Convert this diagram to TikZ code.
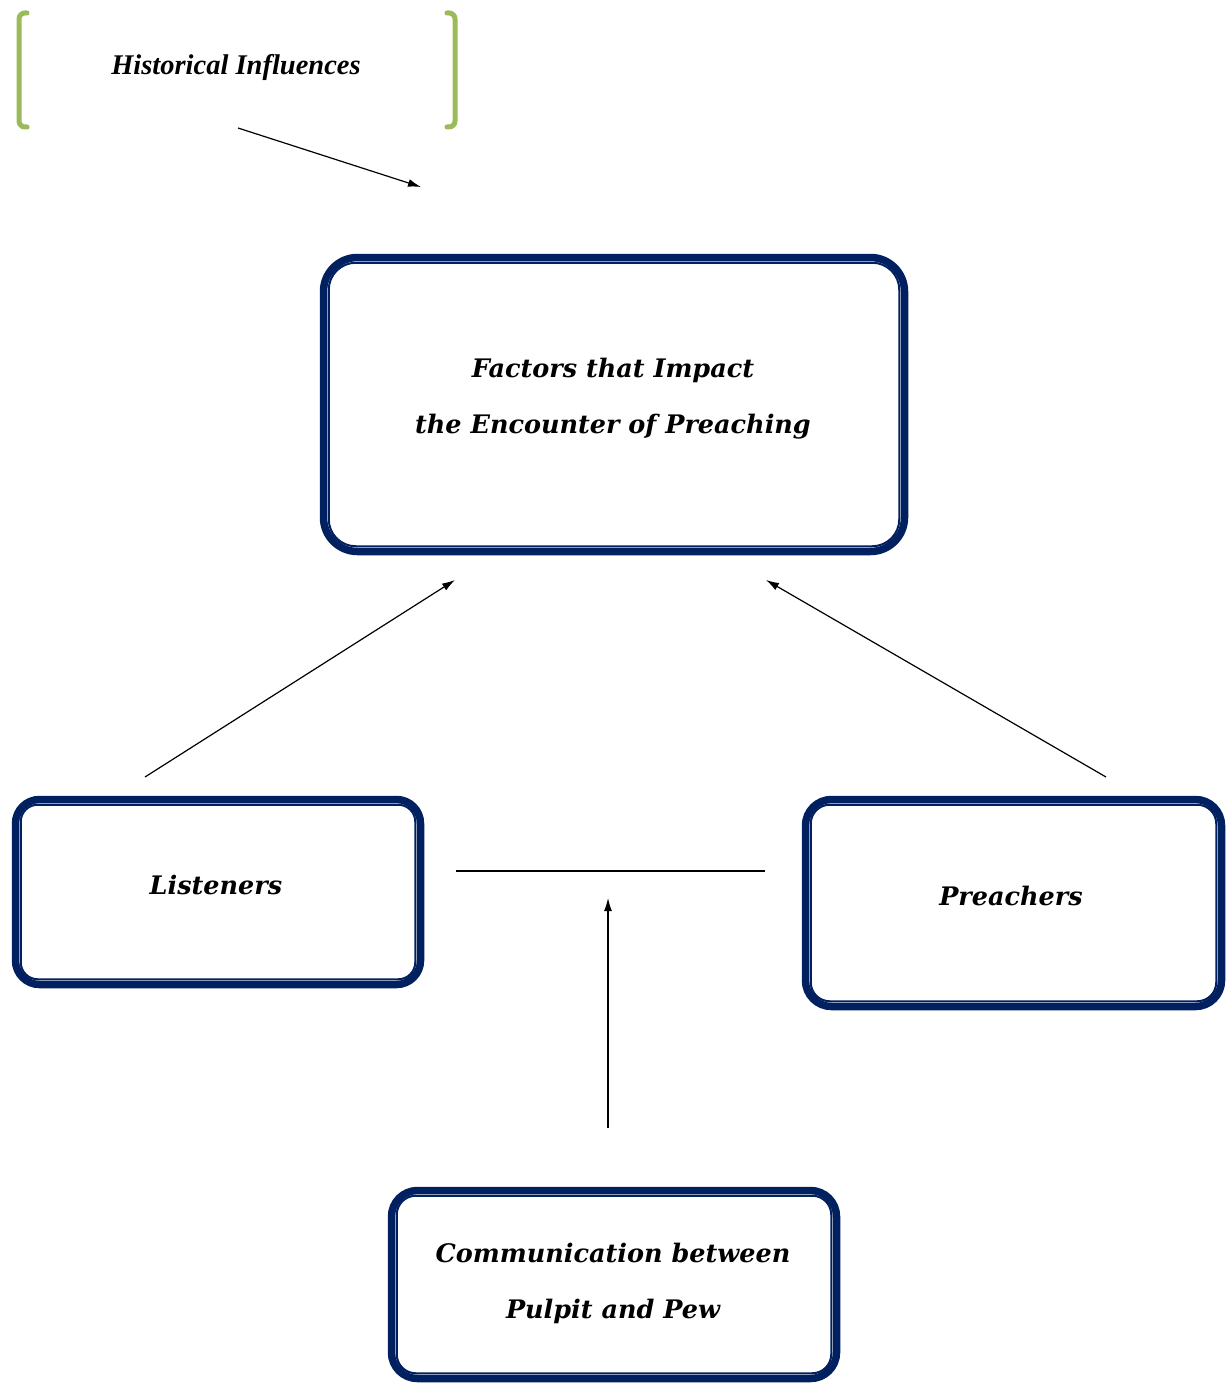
\documentclass[tikz,border=0pt]{standalone}
\usepackage{fontspec}
\setmainfont{Liberation Serif}
\newfontfamily\boxfont{DejaVu Serif}
\usetikzlibrary{arrows.meta}
\definecolor{navy}{RGB}{0,32,96}
\definecolor{brgreen}{RGB}{155,187,89}
\tikzset{
  dbox/.style={draw=navy, line width=7.5pt, rounded corners=#1, inner sep=0pt},
  innerline/.style={draw=navy, line width=2pt},
  boxtext/.style={font=\boxfont\fontsize{25.5}{56}\selectfont\bfseries\itshape, align=center},
  arr/.style={line width=1.2pt, -{Latex[length=13pt,width=8pt]}},
  plain/.style={line width=1.2pt},
  bracket/.style={draw=brgreen, line width=5pt, line cap=round, rounded corners=6pt},
}
\begin{document}
\begin{tikzpicture}[x=1pt,y=-1pt]
\useasboundingbox (0,0) rectangle (1230,1383);
% main box
\node[dbox=34pt, minimum width=581pt, minimum height=294pt] (main) at (614,404.5) {};
\draw[innerline, rounded corners=27pt] ([shift={(9,9)}]main.north west) rectangle ([shift={(-9,-9)}]main.south east);
\node[boxtext] (maintext) at (613,399) {Factors that Impact\\the Encounter of Preaching};
% listeners
\node[dbox=24pt, minimum width=405pt, minimum height=185pt] (lis) at (218,892) {};
\draw[innerline, rounded corners=17pt] ([shift={(9,9)}]lis.north west) rectangle ([shift={(-9,-9)}]lis.south east);
\node[boxtext] (listext) at (216,885) {Listeners};
% preachers
\node[dbox=26pt, minimum width=416pt, minimum height=207pt] (pre) at (1013.5,903) {};
\draw[innerline, rounded corners=19pt] ([shift={(9,9)}]pre.north west) rectangle ([shift={(-9,-9)}]pre.south east);
\node[boxtext] (pretext) at (1011,896) {Preachers};
% communication
\node[dbox=26pt, minimum width=445pt, minimum height=188pt] (com) at (614,1284.5) {};
\draw[innerline, rounded corners=19pt] ([shift={(9,9)}]com.north west) rectangle ([shift={(-9,-9)}]com.south east);
\node[boxtext] (comtext) at (613,1283) {Communication between\\Pulpit and Pew};
% historical influences
\node[font=\fontsize{28.5}{30}\selectfont\bfseries\itshape] (hist) at (236,68) {Historical Influences};
\draw[bracket] (27,13) -- (19,13) -- (19,127) -- (27,127);
\draw[bracket] (447,13) -- (455,13) -- (455,127) -- (447,127);
% connector endpoints
\coordinate (h1) at (238,128);
\coordinate (h2) at (421,187);
\coordinate (l1) at (145,777);
\coordinate (l2) at (455,580);
\coordinate (p1) at (1106,777);
\coordinate (p2) at (766,580);
\coordinate (m1) at (456,871);
\coordinate (m2) at (765,871);
\coordinate (c1) at (608,1128);
\coordinate (c2) at (608,898);
\draw[arr] (h1) -- (h2);
\draw[arr] (l1) -- (l2);
\draw[arr] (p1) -- (p2);
\draw[plain] (m1) -- (m2);
\draw[arr] (c1) -- (c2);
\end{tikzpicture}
\end{document}
